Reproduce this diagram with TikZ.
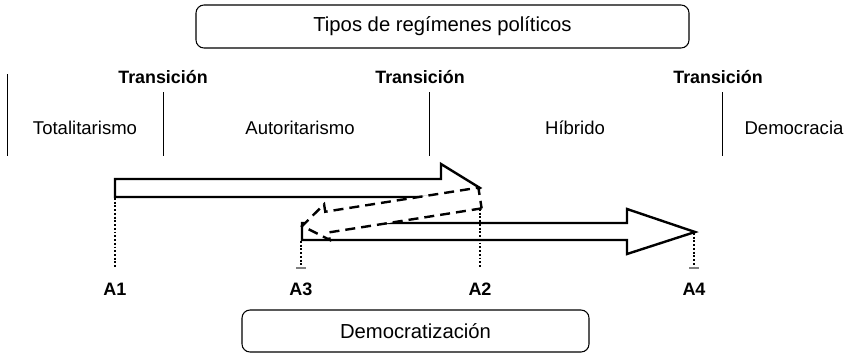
\documentclass[tikz,border=0pt]{standalone}
\usepackage{fontspec}
\setmainfont{Liberation Sans}
\usetikzlibrary{calc}

\tikzset{
    rbox/.style={draw, rounded corners=6pt, line width=0.8pt, inner sep=0pt,
        font=\fontsize{15.2}{18}\selectfont},
    regime/.style={font=\fontsize{13.9}{16}\selectfont},
    trans/.style={font=\fontsize{13.4}{16}\bfseries},
    year/.style={font=\fontsize{13.5}{16}\bfseries},
    blockarrow/.style={draw, fill=white, line width=1.8pt, line join=miter},
    drop/.style={line width=2pt, dash pattern=on 1.4pt off 1.4pt},
}

\begin{document}
\begin{tikzpicture}[x=0.75pt,y=-0.75pt]
        \useasboundingbox (0,0) rectangle (864,354);

        % titles
        \node[rbox, minimum width=369.75pt, minimum height=32.25pt] (tipos) at (442.5,26.5) {Tipos de regímenes políticos};
        \node[rbox, minimum width=260.25pt, minimum height=31.5pt] (democ) at (415.5,331) {Democratización};

        % regimes and transitions
        \draw[line width=0.75pt] (7,74) to (7,156)
        (163,92) to (163,156)
        (429,92) to (429,156)
        (722,92) to (722,156);
        \node[trans] (tr1) at (163,77) {Transición};
        \node[trans] (tr2) at (420,77) {Transición};
        \node[trans] (tr3) at (718,77) {Transición};
        \node[regime] (tot) at (85,128) {Totalitarismo};
        \node[regime] (aut) at (300,128) {Autoritarismo};
        \node[regime] (hib) at (575,128) {Híbrido};
        \node[regime] (dem) at (794,128) {Democracia};

        % block arrows
        \draw[blockarrow] (115,179) to (441,179) to (441,164) to (480,188) to (441,212) to (441,197) to (115,197) to cycle;
        \draw[blockarrow] (302,223) to (627,223) to (627,209) to (695,232) to (627,254) to (627,240) to (302,240) to cycle;
        \begin{scope}[shift={(480,198)}, rotate=188.94]
            \draw[blockarrow, dash pattern=on 7.5pt off 4.5pt] (0,-10.5) to (155,-10.5) to (155,-18) to (180,0) to (155,18) to (155,10.5) to (0,10.5) to cycle;
        \end{scope}

        % years
        \coordinate (a1) at (115,198);
        \coordinate (a2) at (480,209);
        \coordinate (a3) at (301,241);
        \coordinate (a4) at (694,233);
        \coordinate (foot) at (0,268);
        \node[year] (y1) at (115,289) {A1};
        \node[year] (y3) at (301,289) {A3};
        \node[year] (y2) at (480,289) {A2};
        \node[year] (y4) at (694,289) {A4};
        \draw[drop] (a1) to (a1 |- foot);
        \draw[drop] (a2) to (a2 |- foot);
        \draw[drop] (a3) to (a3 |- foot);
        \draw[drop] (a4) to (a4 |- foot);
        \draw[gray, line width=0.8pt] ($(a3 |- foot)+(-5,0)$) to ($(a3 |- foot)+(5,0)$)
        ($(a4 |- foot)+(-5,0)$) to ($(a4 |- foot)+(5,0)$);
    \end{tikzpicture}
\end{document}
